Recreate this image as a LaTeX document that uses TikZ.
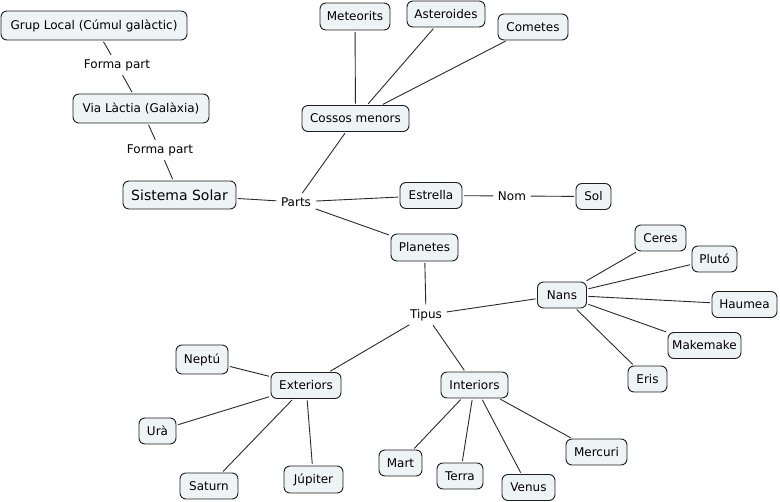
\documentclass[tikz,border=0pt]{standalone}
\usepackage{fontspec}
\setmainfont{DejaVu Sans}
\definecolor{boxfill}{HTML}{EEF3F6}
\definecolor{boxline}{HTML}{1E1E1E}
\definecolor{edgecol}{HTML}{2A2A2A}
\begin{document}
\begin{tikzpicture}[x=1pt,y=-1pt,
  concept/.style={draw=boxline,fill=boxfill,rounded corners=6pt,line width=0.9pt,
    inner xsep=3pt,inner ysep=0pt,minimum height=26pt,
    font=\fontsize{12}{14}\selectfont},
  bigconcept/.style={concept,minimum height=29pt},
  w/.style={minimum width=#1pt},
  linkph/.style={inner sep=3pt,font=\fontsize{12}{14}\selectfont},
  edge/.style={draw=edgecol,line width=0.9pt,shorten <=1.5pt,shorten >=1.5pt}]
\path[use as bounding box] (0,0) rectangle (780,502);
% concepts
\node[bigconcept,w=186] (grup) at (94,25.5) {Grup Local (Cúmul galàctic)};
\node[bigconcept,w=136] (via) at (141,108.5) {Via Làctia (Galàxia)};
\node[bigconcept,w=113,font=\fontsize{14}{16}\selectfont,minimum height=28pt] (sist) at (179.5,195) {Sistema Solar};
\node[concept,w=70,minimum height=27pt] (meteo) at (355,16.5) {Meteorits};
\node[concept,w=78] (aster) at (446,14) {Asteroides};
\node[concept,w=70] (comet) at (533,27) {Cometes};
\node[concept,w=107] (cossos) at (355.5,118.5) {Cossos menors};
\node[concept,w=62] (estr) at (431,195.5) {Estrella};
\node[concept,w=35] (sol) at (593.5,196.5) {Sol};
\node[concept,w=67,minimum height=27pt] (plan) at (424.5,247.5) {Planetes};
\node[concept,w=49] (nans) at (562,295) {Nans};
\node[concept,w=51] (ceres) at (660.5,238) {Ceres};
\node[concept,w=45] (pluto) at (714.5,259) {Plutó};
\node[concept,w=65] (haumea) at (744.5,304.5) {Haumea};
\node[concept,w=73] (make) at (704.5,345.5) {Makemake};
\node[concept,w=39] (eris) at (647.5,379) {Eris};
\node[concept,w=70] (ext) at (306,385.5) {Exteriors};
\node[bigconcept,w=52] (neptu) at (202,359.5) {Neptú};
\node[concept,w=37] (ura) at (157.5,431) {Urà};
\node[concept,w=58] (saturn) at (209,486) {Saturn};
\node[concept,w=59,minimum height=27pt] (jup) at (313.5,479.5) {Júpiter};
\node[concept,w=67] (int) at (474.5,385) {Interiors};
\node[concept,w=43] (mart) at (400.5,463) {Mart};
\node[concept,w=46] (terra) at (460,476) {Terra};
\node[concept,w=53] (venus) at (528.5,487.5) {Venus};
\node[concept,w=61] (merc) at (596.5,452) {Mercuri};
% linking phrases
\node[linkph] (fp1) at (117,65) {Forma part};
\node[linkph] (fp2) at (160,150) {Forma part};
\node[linkph] (parts) at (296,202) {Parts};
\node[linkph] (nom) at (512,196) {Nom};
\node[linkph] (tipus) at (426,315) {Tipus};
% connectors
\draw[edge] (grup) -- (fp1);
\draw[edge] (fp1) -- (via);
\draw[edge] (via) -- (fp2);
\draw[edge] (fp2) -- (sist);
\draw[edge] (sist) -- (parts);
\draw[edge] (parts) -- (cossos);
\draw[edge] (parts) -- (estr);
\draw[edge] (parts) -- (plan);
\draw[edge] (cossos) -- (meteo);
\draw[edge] (cossos) -- (aster);
\draw[edge] (cossos) -- (comet);
\draw[edge] (estr) -- (nom);
\draw[edge] (nom) -- (sol);
\draw[edge] (plan) -- (tipus);
\draw[edge] (tipus) -- (nans);
\draw[edge] (tipus) -- (ext);
\draw[edge] (tipus) -- (int);
\draw[edge] (nans) -- (ceres);
\draw[edge] (nans) -- (pluto);
\draw[edge] (nans) -- (haumea);
\draw[edge] (nans) -- (make);
\draw[edge] (nans) -- (eris);
\draw[edge] (ext) -- (neptu);
\draw[edge] (ext) -- (ura);
\draw[edge] (ext) -- (saturn);
\draw[edge] (ext) -- (jup);
\draw[edge] (int) -- (mart);
\draw[edge] (int) -- (terra);
\draw[edge] (int) -- (venus);
\draw[edge] (int) -- (merc);
\end{tikzpicture}
\end{document}
